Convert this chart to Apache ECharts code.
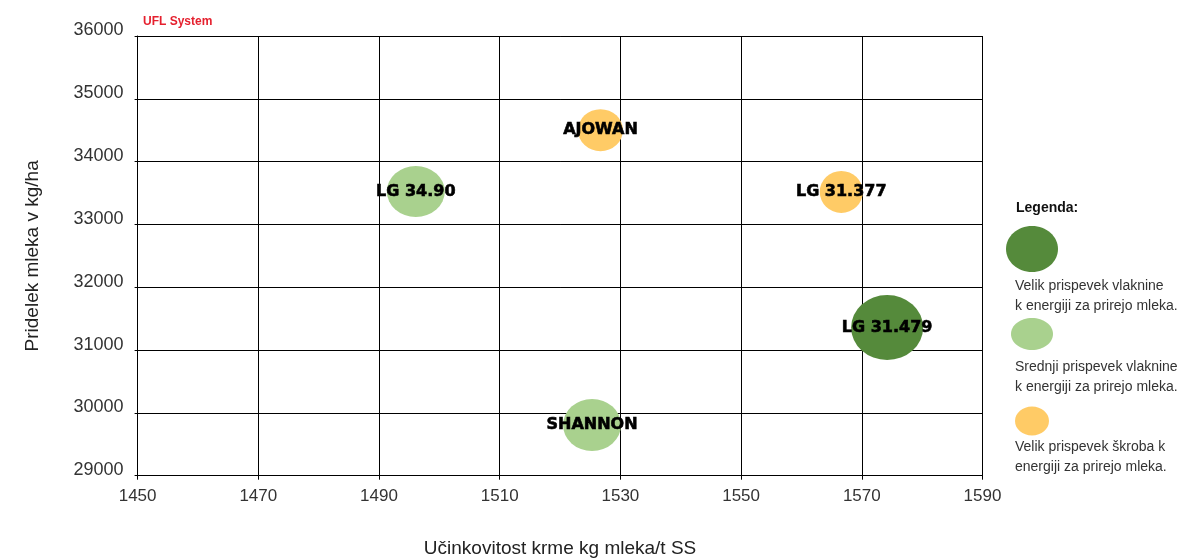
<!DOCTYPE html>
<html>
<head>
<meta charset="utf-8">
<script src="https://cdn.jsdelivr.net/npm/echarts@6/dist/echarts.min.js"></script>
<style>
  html, body { margin: 0; padding: 0; background: #fff; }
  #chartArea { width: 1200px; height: 560px; }
</style>
</head>
<body>
<div id="chartArea"></div>
<script>
// hibridi in njihove vrednosti
var names = ['AJOWAN', 'LG 34.90', 'LG 31.377', 'LG 31.479', 'SHANNON'];
var efficiency = [1526.7, 1496.1, 1566.6, 1574.2, 1525.3];   // kg mleka/t SS
var milkYield = [34500, 33525, 33518, 31360, 29807];          // kg/ha
var bubbleW = [45, 58, 43, 72, 58];
var bubbleH = [42, 51, 42, 65, 52];
var group = [2, 1, 2, 0, 1];

var groupColors = ['#558a3b', '#a9d18e', '#ffcb66'];
var legendLabels = [
    'Velik prispevek vlaknine\nk energiji za prirejo mleka.',
    'Srednji prispevek vlaknine\nk energiji za prirejo mleka.',
    'Velik prispevek škroba k\nenergiji za prirejo mleka.'
];

var points = [];
for (var i = 0; i < names.length; i++) {
    points.push({
        name: names[i],
        value: [efficiency[i], milkYield[i]],
        symbolSize: [bubbleW[i], bubbleH[i]],
        itemStyle: { color: groupColors[group[i]], opacity: 1 }
    });
}

// legenda (elipse + opisi) na desni
var legendIcons = [
    { cy: 249, rx: 26, ry: 23, ty: 276 },
    { cy: 334, rx: 21, ry: 16, ty: 357 },
    { cy: 421, rx: 17, ry: 14.5, ty: 437 }
];
var graphics = [{
    type: 'text', left: 1016, top: 201,
    style: { text: 'Legenda:', font: 'bold 14px "Liberation Sans", Arial, sans-serif', fill: '#111' }
}];
legendIcons.forEach(function (it, k) {
    graphics.push({
        type: 'ellipse',
        shape: { cx: 1032, cy: it.cy, rx: it.rx, ry: it.ry },
        style: { fill: groupColors[k] }
    });
    graphics.push({
        type: 'text', left: 1015, top: it.ty,
        style: {
            text: legendLabels[k],
            font: '14px "Liberation Sans", Arial, sans-serif',
            fill: '#333',
            lineHeight: 20
        }
    });
});

var myChart = echarts.init(document.getElementById('chartArea'));

var options = {
    backgroundColor: '#fff',
    animation: false,
    title: {
        text: 'UFL System',
        left: 138,
        top: 11,
        textStyle: { color: '#e5202e', fontSize: 12, fontWeight: 'bold', fontFamily: '"Liberation Sans", Arial, sans-serif' }
    },
    grid: { left: 137.6, right: 217.5, top: 36, bottom: 84.3, containLabel: false, outerBoundsMode: 'none' },
    xAxis: {
        type: 'value',
        min: 1450, max: 1590, interval: 20,
        name: 'Učinkovitost krme kg mleka/t SS',
        nameLocation: 'middle',
        nameGap: 64,
        nameTextStyle: { fontSize: 19, color: '#222', fontFamily: '"Liberation Sans", Arial, sans-serif' },
        axisLine: { show: true, lineStyle: { color: '#000', width: 1 } },
        axisTick: { show: true, length: 4, lineStyle: { color: '#000' } },
        axisLabel: {
            fontSize: 17, color: '#333', margin: 12,
            fontFamily: '"Liberation Sans", Arial, sans-serif',
            formatter: function (v) { return String(v); }
        },
        splitLine: { show: true, lineStyle: { color: '#000', width: 1 } }
    },
    yAxis: {
        type: 'value',
        min: 29000, max: 36000, interval: 1000,
        name: 'Pridelek mleka v kg/ha',
        nameLocation: 'middle',
        nameGap: 95,
        nameRotate: 90,
        nameTextStyle: { fontSize: 19, color: '#222', fontFamily: '"Liberation Sans", Arial, sans-serif' },
        axisLine: { show: true, lineStyle: { color: '#000', width: 1 } },
        axisTick: { show: true, length: 3, lineStyle: { color: '#000' } },
        axisLabel: {
            fontSize: 18, color: '#333', margin: 14,
            verticalAlign: 'bottom',
            lineHeight: 11,
            fontFamily: '"Liberation Sans", Arial, sans-serif',
            formatter: function (v) { return String(v); }
        },
        splitLine: { show: true, lineStyle: { color: '#000', width: 1 } }
    },
    series: [{
        type: 'scatter',
        symbol: 'circle',
        data: points,
        label: {
            show: true,
            position: 'inside',
            formatter: '{b}',
            color: '#000',
            fontSize: 16,
            fontWeight: 'bold',
            fontFamily: '"DejaVu Sans", sans-serif',
            textBorderColor: '#000',
            textBorderWidth: 0.6
        },
        emphasis: { disabled: true }
    }],
    graphic: graphics
};

myChart.setOption(options);
</script>
</body>
</html>
